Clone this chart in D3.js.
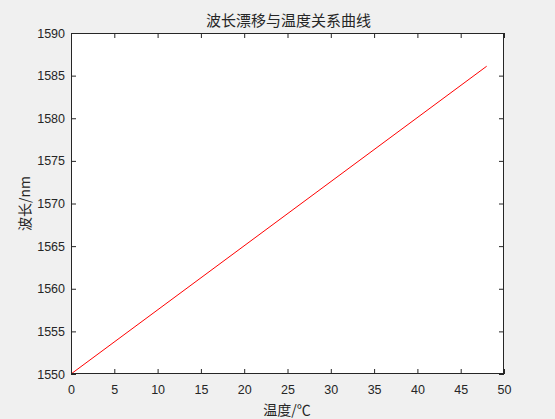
<!DOCTYPE html>
<html>
<head>
<meta charset="utf-8">
<script src="https://d3js.org/d3.v7.min.js"></script>
<style>
  html, body { margin: 0; padding: 0; background: #f0f0f0; }
  svg { display: block; }
  .lbl { font-family: "Noto Sans CJK SC", sans-serif; fill: #262626; }
</style>
</head>
<body>
<script>
const width = 555;
const height = 419;

// data
const temperature = [0, 48];
const wavelength = [1550, 1586.1];
const xTicks = [0, 5, 10, 15, 20, 25, 30, 35, 40, 45, 50];
const yTicks = [1550, 1555, 1560, 1565, 1570, 1575, 1580, 1585, 1590];

// plot box
const axLeft = 71, axRight = 504, axTop = 33, axBottom = 374;

const svg = d3.select("body")
    .append("svg")
    .attr("width", width)
    .attr("height", height);

const x = d3.scaleLinear().domain([0, 50]).range([axLeft, axRight]);
const y = d3.scaleLinear().domain([1550, 1590]).range([axBottom, axTop]);

// axes background
svg.append("rect")
    .attr("x", axLeft)
    .attr("y", axTop)
    .attr("width", axRight - axLeft)
    .attr("height", axBottom - axTop)
    .attr("fill", "#fff");

// line
const pts = temperature.map(function (t, i) { return [t, wavelength[i]]; });
svg.append("path")
    .datum(pts)
    .attr("fill", "none")
    .attr("stroke", "#ff0000")
    .attr("stroke-width", 1)
    .attr("d", d3.line().x(d => x(d[0])).y(d => y(d[1])));

function styleAxis(g) {
    g.attr("font-family", "'Liberation Sans', Arial, sans-serif")
        .attr("font-size", 12.5);
    g.select(".domain").remove();
    g.selectAll(".tick line").attr("stroke", "#262626");
    g.selectAll(".tick text").attr("fill", "#262626");
}

// bottom axis (ticks inward)
svg.append("g")
    .attr("transform", "translate(0," + axBottom + ")")
    .call(d3.axisBottom(x).tickValues(xTicks).tickFormat(d3.format("d"))
        .tickSizeInner(-5).tickSizeOuter(0).tickPadding(11))
    .call(styleAxis);

// top ticks
svg.append("g")
    .attr("transform", "translate(0," + axTop + ")")
    .call(d3.axisTop(x).tickValues(xTicks).tickSizeInner(-5).tickSizeOuter(0).tickFormat(""))
    .call(styleAxis);

// left axis
svg.append("g")
    .attr("transform", "translate(" + axLeft + ",0)")
    .call(d3.axisLeft(y).tickValues(yTicks).tickFormat(d3.format("d"))
        .tickSizeInner(-5).tickSizeOuter(0).tickPadding(6))
    .call(styleAxis);

// right ticks
svg.append("g")
    .attr("transform", "translate(" + axRight + ",0)")
    .call(d3.axisRight(y).tickValues(yTicks).tickSizeInner(-5).tickSizeOuter(0).tickFormat(""))
    .call(styleAxis);

// box
svg.append("rect")
    .attr("x", axLeft + 0.5)
    .attr("y", axTop + 0.5)
    .attr("width", axRight - axLeft - 1)
    .attr("height", axBottom - axTop - 1)
    .attr("fill", "none")
    .attr("stroke", "#262626")
    .attr("stroke-width", 1);

// title and labels
svg.append("text")
    .attr("class", "lbl")
    .attr("font-size", 15)
    .attr("x", 288.5)
    .attr("y", 26)
    .attr("text-anchor", "middle")
    .text("波长漂移与温度关系曲线");

svg.append("text")
    .attr("class", "lbl")
    .attr("font-size", 14)
    .attr("x", 287)
    .attr("y", 415)
    .attr("text-anchor", "middle")
    .text("温度/℃");

svg.append("text")
    .attr("class", "lbl")
    .attr("font-size", 14)
    .attr("transform", "translate(30," + (axTop + axBottom) / 2 + ") rotate(-90)")
    .attr("text-anchor", "middle")
    .text("波长/nm");
</script>
</body>
</html>
